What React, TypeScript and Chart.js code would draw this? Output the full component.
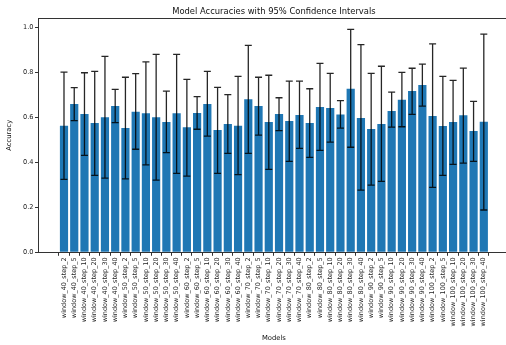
import React, { useEffect, useRef } from "react";
import { Chart, registerables } from "chart.js";

Chart.register(...registerables);

const windows = [40, 50, 60, 70, 80, 90, 100];
const steps = [2, 5, 10, 20, 30, 40];
const models: string[] = windows.flatMap((w) => steps.map((s) => `window_${w}_step_${s}`));

const accuracy = [
  0.563, 0.659, 0.615, 0.575, 0.600, 0.650,
  0.552, 0.625, 0.618, 0.600, 0.579, 0.618,
  0.556, 0.619, 0.659, 0.544, 0.570, 0.563,
  0.680, 0.650, 0.579, 0.615, 0.584, 0.610,
  0.575, 0.646, 0.641, 0.613, 0.727, 0.597,
  0.548, 0.570, 0.628, 0.678, 0.717, 0.744,
  0.606, 0.561, 0.579, 0.609, 0.539, 0.580,
];
const ciLower = [
  0.324, 0.585, 0.431, 0.342, 0.330, 0.576,
  0.326, 0.458, 0.389, 0.321, 0.443, 0.351,
  0.339, 0.547, 0.516, 0.351, 0.440, 0.345,
  0.440, 0.521, 0.369, 0.541, 0.404, 0.462,
  0.422, 0.453, 0.490, 0.552, 0.467, 0.276,
  0.299, 0.315, 0.556, 0.558, 0.613, 0.650,
  0.289, 0.342, 0.391, 0.396, 0.404, 0.188,
];
const ciUpper = [
  0.801, 0.732, 0.798, 0.804, 0.871, 0.724,
  0.778, 0.794, 0.846, 0.880, 0.716, 0.880,
  0.769, 0.692, 0.804, 0.733, 0.701, 0.782,
  0.920, 0.778, 0.787, 0.687, 0.761, 0.761,
  0.727, 0.840, 0.795, 0.674, 0.991, 0.923,
  0.795, 0.827, 0.712, 0.800, 0.818, 0.836,
  0.926, 0.782, 0.764, 0.819, 0.671, 0.970,
];
const yTicks = [0, 0.2, 0.4, 0.6, 0.8, 1.0];
const chartTitle = "Model Accuracies with 95% Confidence Intervals";

const FONT = "'DejaVu Sans', sans-serif";

export default function App() {
  const ref = useRef<HTMLCanvasElement | null>(null);

  useEffect(() => {
    const canvas = ref.current;
    if (!canvas) return;

    const errorBars = {
      id: "errorBars",
      afterDatasetsDraw(chart: any) {
        const { ctx, scales, chartArea } = chart;
        const xs = scales.x;
        const ys = scales.y;
        ctx.save();
        ctx.strokeStyle = "rgba(0,0,0,0.85)";
        ctx.lineWidth = 1.3;
        for (let i = 0; i < accuracy.length; i++) {
          const x = xs.getPixelForValue(i);
          const y1 = ys.getPixelForValue(ciLower[i]);
          const y2 = ys.getPixelForValue(ciUpper[i]);
          ctx.beginPath();
          ctx.moveTo(x, y1);
          ctx.lineTo(x, y2);
          ctx.moveTo(x - 3.5, y1);
          ctx.lineTo(x + 3.5, y1);
          ctx.moveTo(x - 3.5, y2);
          ctx.lineTo(x + 3.5, y2);
          ctx.stroke();
        }
        // top spine
        ctx.strokeStyle = "#333";
        ctx.lineWidth = 1;
        ctx.beginPath();
        ctx.moveTo(chartArea.left, Math.round(chartArea.top) + 0.5);
        ctx.lineTo(chartArea.right, Math.round(chartArea.top) + 0.5);
        ctx.stroke();
        // title centred over the axes
        ctx.fillStyle = "#111";
        ctx.font = `8.4px ${FONT}`;
        ctx.textAlign = "center";
        ctx.textBaseline = "middle";
        ctx.fillText(chartTitle, (chartArea.left + chartArea.right) / 2, 11.5);
        ctx.restore();
      },
    };

    const chart = new Chart(canvas, {
      type: "bar",
      data: {
        datasets: [
          {
            label: "Accuracy",
            data: accuracy.map((v, i) => ({ x: i, y: v })),
            backgroundColor: "rgb(31,119,180)",
            barPercentage: 0.8,
            categoryPercentage: 1,
          },
        ],
      },
      options: {
        responsive: false,
        animation: false,
        layout: { padding: { left: 0, right: 10.7, top: 18.3, bottom: 0 } },
        plugins: {
          legend: { display: false },
          tooltip: { enabled: false },
          title: { display: false },
        },
        scales: {
          x: {
            type: "linear",
            min: -2.49,
            max: 43.49,
            offset: false,
            afterBuildTicks(scale: any) {
              scale.ticks = models.map((_, i) => ({ value: i }));
            },
            afterFit(scale: any) {
              scale.height = 92.7;
            },
            ticks: {
              autoSkip: false,
              minRotation: 90,
              maxRotation: 90,
              padding: 1.5,
              color: "#222",
              font: { family: FONT, size: 6.5 },
              callback: (v: any) => models[Math.round(Number(v))] ?? "",
            },
            grid: {
              drawOnChartArea: false,
              drawTicks: true,
              tickLength: 3.5,
              color: "#333",
            },
            border: { display: true, color: "#333", width: 1 },
            title: {
              display: true,
              text: "Models",
              color: "#111",
              font: { family: FONT, size: 6.8 },
              padding: { top: 2, bottom: 2.8 },
            },
          },
          y: {
            min: 0,
            max: 1.04,
            afterBuildTicks(scale: any) {
              scale.ticks = yTicks.map((v) => ({ value: v }));
            },
            afterFit(scale: any) {
              scale.width = 38.5;
            },
            ticks: {
              color: "#222",
              padding: 1.5,
              font: { family: FONT, size: 6.6 },
              callback: (v: any) => Number(v).toFixed(1),
            },
            grid: {
              drawOnChartArea: false,
              drawTicks: true,
              tickLength: 3.5,
              color: "#333",
            },
            border: { display: true, color: "#333", width: 1 },
            title: {
              display: true,
              text: "Accuracy",
              color: "#111",
              font: { family: FONT, size: 6.8 },
              padding: { top: 5, bottom: 2 },
            },
          },
        },
      },
      plugins: [errorBars],
    } as any);

    return () => chart.destroy();
  }, []);

  return (
    <div
      style={{
        position: "fixed",
        left: 0,
        top: 0,
        width: 506,
        height: 345,
        overflow: "hidden",
        background: "#fff",
      }}
    >
      <canvas ref={ref} width={520} height={345} style={{ width: 520, height: 345, display: "block" }} />
    </div>
  );
}
